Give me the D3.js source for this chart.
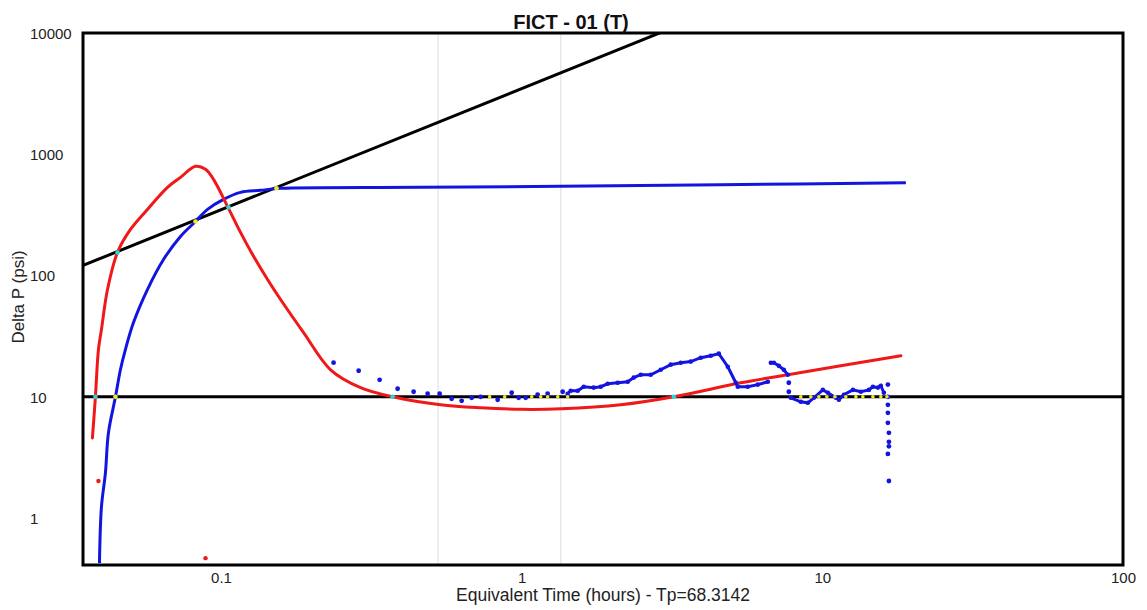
<!DOCTYPE html>
<html>
<head>
<meta charset="utf-8">
<script src="https://cdn.jsdelivr.net/npm/d3@7"></script>
<style>
  html, body { margin: 0; padding: 0; background: #fff; }
  svg { display: block; font-family: "Liberation Sans", Arial, sans-serif; }
</style>
</head>
<body>
<svg id="chart" width="1147" height="610"></svg>
<script>
// ---------------- data ----------------
const chartTitle = "FICT - 01 (T)";
const xTitle = "Equivalent Time (hours) - Tp=68.3142";
const yTitle = "Delta P (psi)";
const xTicks = [0.1, 1, 10, 100];
const yTicks = [1, 10, 100, 1000, 10000];
const xDomain = [0.03475, 100];
const yDomain = [0.41, 10000];
const gridTimes = [0.527, 1.35];

// horizontal reference line (radial flow) and unit-slope line (storage)
const flatLineDP = 10;
const unitSlopeT = [0.02, 5];
const unitSlopeDP = [69.7, 17400];

// red: model derivative curve
const redT  = [0.03735, 0.03822, 0.03911, 0.04002, 0.04192, 0.04523, 0.04998, 0.05692, 0.06637, 0.07331, 0.08225, 0.08881, 0.09441, 0.1051, 0.1161, 0.1283, 0.1428, 0.1578, 0.1882, 0.2314, 0.2912, 0.3721, 0.5377, 0.7303, 1.0, 1.359, 2.135, 3.205, 5.356, 7.676, 18.25];
const redDP = [4.58, 10, 24.5, 35.8, 76.6, 155, 240, 351, 534, 645, 796, 752, 621, 372, 227, 144, 92.7, 63.4, 33.8, 16.7, 11.9, 10, 8.59, 8.11, 7.88, 7.96, 8.59, 10, 13.05, 15.2, 21.8];

// red isolated points
const redDotT  = [0.03911, 0.08881];
const redDotDP = [2.02, 0.467];

// blue: pressure curve
const pressT  = [0.03942, 0.04002, 0.04126, 0.04222, 0.04456, 0.04628, 0.04808, 0.05115, 0.05692, 0.06437, 0.07331, 0.08225, 0.09018, 0.1019, 0.1161, 0.1353, 0.1578, 0.4612, 1.348, 4.594, 18.96];
const pressDP = [0.4247, 1.233, 2.355, 5.04, 10, 16.7, 24.5, 40.9, 76.6, 135.6, 210, 279, 351, 425, 485, 504, 524, 534, 544, 560, 581];

// blue: derivative data (sparse points)
const derivSparseT  = [0.2368, 0.2869, 0.3369, 0.3867, 0.4371, 0.4867, 0.5335, 0.5849, 0.6316, 0.6818, 0.7304, 0.8320, 0.9263, 0.9773, 1.031, 1.130, 1.220, 1.369, 7.736, 7.736, 16.52];
const derivSparseDP = [19.1, 16.4, 13.8, 11.65, 11.0, 10.6, 10.6, 9.63, 9.27, 9.81, 10.0, 9.45, 10.8, 9.81, 9.81, 10.4, 10.6, 11.0, 13.05, 11.0, 12.6];

// blue: derivative data (dense runs)
const derivRunAT  = [1.422, 1.456, 1.536, 1.608, 1.736, 1.832, 1.932, 2.087, 2.253, 2.359, 2.489, 2.687, 2.901, 3.131, 3.382, 3.651, 3.941, 4.256, 4.525, 4.849, 5.155, 5.234, 5.650, 6.100, 6.588];
const derivRunADP = [10.6, 11.2, 11.2, 12.1, 11.9, 12.1, 12.8, 13.05, 13.3, 14.4, 15.2, 15.2, 16.7, 18.4, 19.1, 19.5, 21.0, 21.8, 22.7, 17.7, 13.05, 12.1, 12.1, 12.6, 13.3];
const derivRunBT  = [6.741, 6.898, 7.165, 7.446, 7.677];
const derivRunBDP = [19.1, 19.1, 18.0, 16.7, 15.2];
const derivRunCT  = [7.856, 8.479, 8.950, 9.369, 10.04, 10.43, 11.09, 11.35, 11.79, 12.64, 13.43, 14.28, 14.73, 15.30, 15.65, 16.02];
const derivRunCDP = [9.81, 9.09, 8.92, 9.81, 11.4, 10.8, 9.81, 9.45, 10.4, 11.4, 11.0, 11.4, 12.1, 11.9, 12.33, 10.8];
// final drop of derivative data
const derivDropT  = [16.52, 16.52, 16.52, 16.52, 16.65, 16.65, 16.65, 16.52, 16.65];
const derivDropDP = [10.0, 8.59, 7.38, 6.10, 5.04, 4.25, 3.90, 3.38, 2.02];

// yellow: derivative points on the radial-flow line
const yellowT = [0.7824, 0.8778, 1.080, 1.157, 1.220, 1.318, 1.422, 8.479, 9.155, 9.737, 10.35, 11.01, 11.97, 12.93, 13.64, 14.73, 15.65, 16.40];
// match markers
const cyanT  = [0.03822, 0.04523, 0.1060, 0.3721, 3.205];
const cyanDP = [10, 155, 365, 10, 10];
const ymarkT  = [0.04456, 0.08225, 0.1530];
const ymarkDP = [10, 279, 524];

// ---------------- chart ----------------
const svg = d3.select("#chart");
const plot = { left: 83, top: 33, right: 1123, bottom: 565 };
const x = d3.scaleLog().domain(xDomain).range([plot.left, plot.right]);
const y = d3.scaleLog().domain(yDomain).range([plot.bottom, plot.top]);

const RED = "#f01818", BLUE = "#1414e0";

svg.append("defs").append("clipPath").attr("id", "clip")
  .append("rect").attr("x", plot.left).attr("y", plot.top)
  .attr("width", plot.right - plot.left).attr("height", plot.bottom - plot.top);

// grid lines
svg.append("g").selectAll("line").data(gridTimes).join("line")
  .attr("x1", d => x(d)).attr("x2", d => x(d))
  .attr("y1", plot.top).attr("y2", plot.bottom)
  .attr("stroke", "#dcdcdc").attr("stroke-width", 1);

const g = svg.append("g").attr("clip-path", "url(#clip)");
const zip = (a, b) => a.map((v, i) => [v, b[i]]);
const line = d3.line().x(d => x(d[0])).y(d => y(d[1]));

// reference lines
g.append("line")
  .attr("x1", plot.left).attr("x2", plot.right)
  .attr("y1", y(flatLineDP)).attr("y2", y(flatLineDP))
  .attr("stroke", "#000").attr("stroke-width", 3);
g.append("path").datum(zip(unitSlopeT, unitSlopeDP)).attr("d", line)
  .attr("fill", "none").attr("stroke", "#000").attr("stroke-width", 3);

// curves
const smooth = d3.line().x(d => x(d[0])).y(d => y(d[1])).curve(d3.curveCatmullRom.alpha(0.5));
g.append("path").datum(zip(pressT, pressDP)).attr("d", smooth)
  .attr("fill", "none").attr("stroke", BLUE).attr("stroke-width", 3);
g.append("path").datum(zip(redT, redDP)).attr("d", smooth)
  .attr("fill", "none").attr("stroke", RED).attr("stroke-width", 3).attr("stroke-linecap", "round");

g.append("g").selectAll("circle").data(zip(redDotT, redDotDP)).join("circle")
  .attr("cx", d => x(d[0])).attr("cy", d => y(d[1])).attr("r", 2.2).attr("fill", RED);

// derivative data
[[derivRunAT, derivRunADP], [derivRunBT, derivRunBDP], [derivRunCT, derivRunCDP]].forEach(([t, v]) => {
  const pts = zip(t, v);
  g.append("path").datum(pts).attr("d", line)
    .attr("fill", "none").attr("stroke", BLUE).attr("stroke-width", 3);
  g.append("g").selectAll("circle").data(pts).join("circle")
    .attr("cx", d => x(d[0])).attr("cy", d => y(d[1])).attr("r", 2.3).attr("fill", BLUE);
});
g.append("g").selectAll("circle").data(zip(derivSparseT, derivSparseDP).concat(zip(derivDropT, derivDropDP))).join("circle")
  .attr("cx", d => x(d[0])).attr("cy", d => y(d[1])).attr("r", 2.4).attr("fill", BLUE);

g.append("g").selectAll("circle").data(yellowT).join("circle")
  .attr("cx", d => x(d)).attr("cy", y(flatLineDP)).attr("r", 1.8).attr("fill", "#f2ea1a");

g.append("g").selectAll("circle").data(zip(cyanT, cyanDP)).join("circle")
  .attr("cx", d => x(d[0])).attr("cy", d => y(d[1])).attr("r", 2.3).attr("fill", "#27d7d7");
g.append("g").selectAll("circle").data(zip(ymarkT, ymarkDP)).join("circle")
  .attr("cx", d => x(d[0])).attr("cy", d => y(d[1])).attr("r", 2.3).attr("fill", "#f2ea1a");

// frame
svg.append("rect").attr("x", plot.left).attr("y", plot.top)
  .attr("width", plot.right - plot.left).attr("height", plot.bottom - plot.top)
  .attr("fill", "none").attr("stroke", "#000").attr("stroke-width", 3);

// axes
const xAxis = svg.append("g").attr("transform", `translate(0,${plot.bottom})`)
  .call(d3.axisBottom(x).tickValues(xTicks).tickSize(0).tickPadding(0).tickFormat(d3.format("~g")));
xAxis.select(".domain").remove();
xAxis.selectAll("text").attr("y", 18).attr("dy", 0)
  .attr("font-size", 15).attr("fill", "#222").attr("font-family", "Liberation Sans, Arial, sans-serif");

const yAxis = svg.append("g").attr("transform", "translate(30,0)")
  .call(d3.axisLeft(y).tickValues(yTicks).tickSize(0).tickFormat(d3.format("d")));
yAxis.select(".domain").remove();
yAxis.selectAll("text").attr("x", 0).attr("text-anchor", "start").attr("dy", "0.35em")
  .attr("font-size", 15).attr("fill", "#222").attr("font-family", "Liberation Sans, Arial, sans-serif");

// titles
svg.append("text").attr("x", 571).attr("y", 29).attr("text-anchor", "middle")
  .attr("font-size", 20).attr("font-weight", "bold").attr("fill", "#111").text(chartTitle);
svg.append("text").attr("x", 603).attr("y", 601).attr("text-anchor", "middle")
  .attr("font-size", 17.5).attr("fill", "#222").text(xTitle);
svg.append("text").attr("transform", "translate(24,297) rotate(-90)").attr("text-anchor", "middle")
  .attr("font-size", 17).attr("fill", "#222").text(yTitle);
</script>
</body>
</html>
